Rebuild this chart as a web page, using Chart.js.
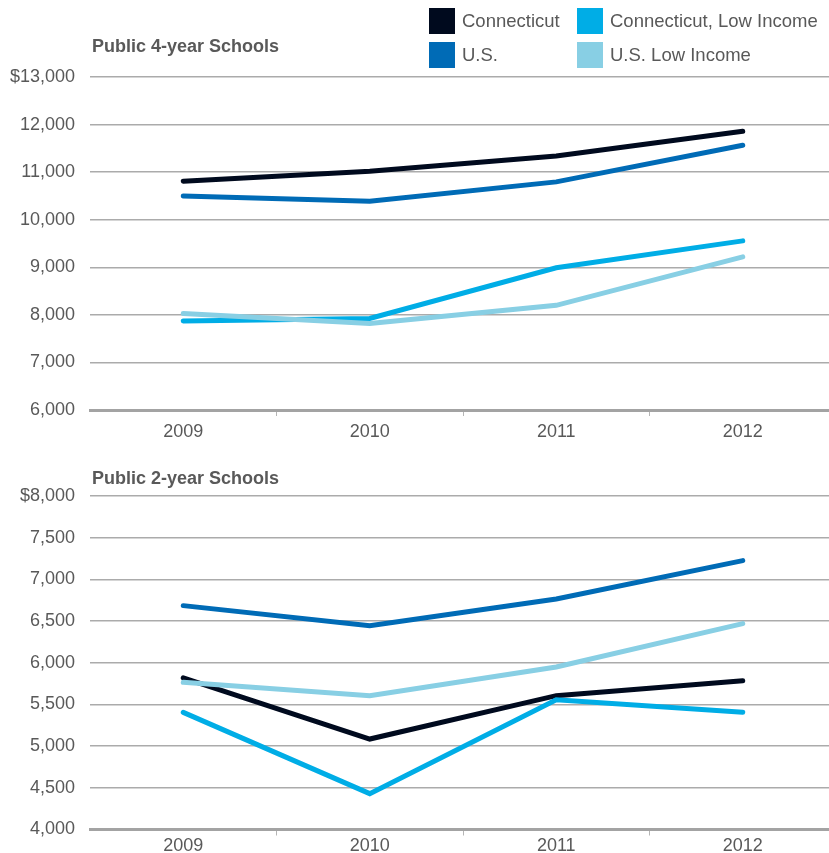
<!DOCTYPE html>
<html>
<head>
<meta charset="utf-8">
<script src="https://cdn.jsdelivr.net/npm/chart.js@4.4.0/dist/chart.umd.min.js"></script>
<style>
  html, body { margin: 0; padding: 0; background: #fff; overflow: hidden; }
  #page { position: relative; width: 829px; height: 853px; overflow: hidden; font-family: "Liberation Sans", Arial, sans-serif; color: #595959; }
  .title { position: absolute; left: 92px; font-size: 18px; font-weight: bold; color: #595959; }
  .wrap { position: absolute; left: 0; }
  #legend { position: absolute; left: 429px; top: 8px; width: 400px; }
  .item { position: absolute; height: 26px; line-height: 26px; font-size: 18.5px; white-space: nowrap; }
  .item span { display: inline-block; width: 26px; height: 26px; vertical-align: top; margin-right: 7px; }
</style>
</head>
<body>
<div id="page">
  <div class="wrap" style="top:0"><canvas id="top4" width="836" height="450"></canvas></div>
  <div class="wrap" style="top:450px"><canvas id="bot2" width="836" height="412"></canvas></div>
  <div class="title" style="top:36px">Public 4-year Schools</div>
  <div class="title" style="top:468px">Public 2-year Schools</div>
  <div id="legend"></div>
</div>
<script>
// categories
var years = ['2009', '2010', '2011', '2012'];

// series names and colours
var seriesNames = ['Connecticut', 'U.S.', 'Connecticut, Low Income', 'U.S. Low Income'];
var seriesColors = ['#000a1e', '#006bb6', '#00ade6', '#88cfe4'];

// Public 4-year schools
var ct4 = [10810, 11020, 11340, 11860];
var us4 = [10500, 10390, 10795, 11565];
var ctLow4 = [7870, 7925, 8990, 9555];
var usLow4 = [8030, 7820, 8200, 9220];

// Public 2-year schools
var ct2 = [5820, 5085, 5605, 5785];
var us2 = [6685, 6445, 6765, 7225];
var ctLow2 = [5405, 4430, 5555, 5405];
var usLow2 = [5765, 5605, 5950, 6470];

// legend (two columns, built from the series arrays)
var legendPos = [[0, 0], [0, 34], [148, 0], [148, 34]];
var legend = document.getElementById('legend');
seriesNames.forEach(function (name, i) {
  var d = document.createElement('div');
  d.className = 'item';
  d.style.left = legendPos[i][0] + 'px';
  d.style.top = legendPos[i][1] + 'px';
  d.innerHTML = '<span style="background:' + seriesColors[i] + '"></span>' + name;
  legend.appendChild(d);
});

function makeDatasets(values) {
  // drawing order: light lines first, dark on top
  var order = [3, 2, 1, 0];
  return values.map(function (v, i) {
    return {
      label: seriesNames[i],
      data: v,
      borderColor: seriesColors[i],
      backgroundColor: seriesColors[i],
      borderWidth: 5,
      pointRadius: 0,
      tension: 0,
      borderCapStyle: 'round',
      borderJoinStyle: 'miter',
      order: order[i]
    };
  });
}

function createChart(id, values, yMin, yMax, step, pad, xPad) {
  var tickFont = { family: '"Liberation Sans", Arial, sans-serif', size: 18 };
  return new Chart(document.getElementById(id), {
    type: 'line',
    data: { labels: years, datasets: makeDatasets(values) },
    options: {
      responsive: false,
      animation: false,
      layout: { padding: pad },
      plugins: { legend: { display: false }, tooltip: { enabled: false } },
      scales: {
        x: {
          offset: true,
          grid: {
            offset: true,
            drawOnChartArea: false,
            tickLength: 6,
            lineWidth: 1,
            color: function (ctx) { return ctx.index === 0 ? 'rgba(0,0,0,0)' : '#b5b5b5'; }
          },
          border: { display: true, color: '#a3a3a3', width: 3 },
          ticks: { color: '#595959', font: tickFont, padding: xPad, maxRotation: 0 }
        },
        y: {
          min: yMin,
          max: yMax,
          afterFit: function (scale) { scale.width = 90; },
          grid: { drawTicks: false, color: '#ababab', lineWidth: 1.5 },
          border: { display: false },
          ticks: {
            stepSize: step,
            padding: 15,
            color: '#595959',
            font: tickFont,
            callback: function (v) {
              var s = v.toLocaleString('en-US');
              return v === yMax ? '$' + s : s;
            }
          }
        }
      }
    }
  });
}

createChart('top4', [ct4, us4, ctLow4, usLow4], 6000, 13000, 1000,
  { top: 77, bottom: 2.4, left: 0, right: 0 }, 5);
createChart('bot2', [ct2, us2, ctLow2, usLow2], 4000, 8000, 500,
  { top: 46, bottom: 4.9, left: 0, right: 0 }, 0);
</script>
</body>
</html>
